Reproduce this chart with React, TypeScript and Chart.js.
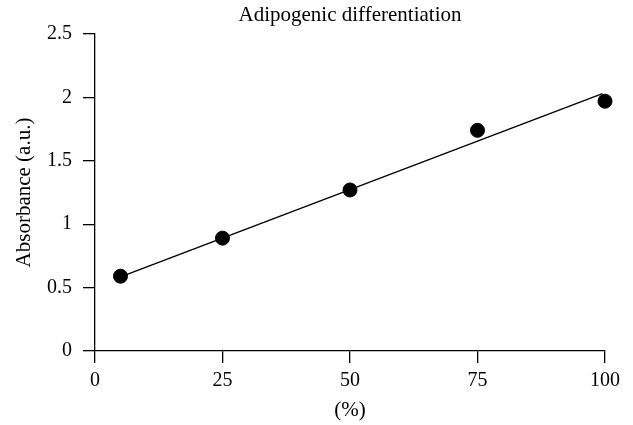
import React, { useEffect, useRef } from "react";
import { Chart, registerables } from "chart.js";

Chart.register(...registerables);

const titleText = "Adipogenic differentiation";
const xAxisTitle = "(%)";
const yAxisTitle = "Absorbance (a.u.)";

const percentages = [5, 25, 50, 75, 100];
const absorbance = [0.59, 0.89, 1.27, 1.74, 1.97];

const fitX = [5, 99.5];
const fitY = [0.585, 2.03];

const xMin = 0;
const xMax = 100;
const xStep = 25;
const yMin = 0;
const yMax = 2.5;
const yStep = 0.5;

const FONT = "'Liberation Serif', 'DejaVu Serif', serif";

export default function App() {
  const ref = useRef<HTMLCanvasElement | null>(null);

  useEffect(() => {
    if (!ref.current) return;
    const chart = new Chart(ref.current, {
      type: "scatter",
      data: {
        datasets: [
          {
            label: "fit",
            data: fitX.map((x, i) => ({ x, y: fitY[i] })),
            showLine: true,
            borderColor: "#000",
            borderWidth: 1.4,
            pointRadius: 0,
            pointHoverRadius: 0,
            clip: false,
          } as any,
          {
            label: "data",
            data: percentages.map((x, i) => ({ x, y: absorbance[i] })),
            showLine: false,
            backgroundColor: "#000",
            borderColor: "#000",
            pointRadius: 7,
            pointHoverRadius: 7,
            clip: false,
          } as any,
        ],
      },
      options: {
        animation: false,
        responsive: true,
        maintainAspectRatio: false,
        layout: { padding: { top: 0, right: 28, bottom: 0, left: 0 } },
        plugins: {
          legend: { display: false },
          tooltip: { enabled: false },
          title: {
            display: true,
            text: titleText,
            color: "#000",
            fullSize: false,
            font: { family: FONT, size: 21, weight: "normal" },
            padding: { top: 3, bottom: 5.8 },
          },
        },
        scales: {
          x: {
            type: "linear",
            min: xMin,
            max: xMax,
            afterFit: (s: any) => {
              s.height = 74;
            },
            ticks: {
              stepSize: xStep,
              color: "#000",
              padding: 6,
              font: { family: FONT, size: 20 },
              maxRotation: 0,
            },
            grid: {
              drawOnChartArea: false,
              drawTicks: true,
              tickLength: 12,
              color: "#000",
              lineWidth: 1.3,
            },
            border: { display: true, color: "#000", width: 1.3 },
            title: {
              display: true,
              text: xAxisTitle,
              color: "#000",
              font: { family: FONT, size: 21 },
              padding: { top: 0, bottom: 2 },
            },
          },
          y: {
            type: "linear",
            min: yMin,
            max: yMax,
            afterFit: (s: any) => {
              s.width = 95;
            },
            ticks: {
              stepSize: yStep,
              color: "#000",
              padding: 11,
              font: { family: FONT, size: 20 },
              callback: (v: any) => String(v),
            },
            grid: {
              drawOnChartArea: false,
              drawTicks: true,
              tickLength: 12,
              color: "#000",
              lineWidth: 1.3,
            },
            border: { display: true, color: "#000", width: 1.3 },
            title: {
              display: true,
              text: yAxisTitle,
              color: "#000",
              font: { family: FONT, size: 21 },
              padding: { top: 12, bottom: 0 },
            },
          },
        },
      },
    });
    return () => chart.destroy();
  }, []);

  return (
    <div
      style={{
        position: "fixed",
        left: 0,
        top: 0,
        width: 633,
        height: 425,
        background: "#fff",
      }}
    >
      <canvas ref={ref} />
    </div>
  );
}
